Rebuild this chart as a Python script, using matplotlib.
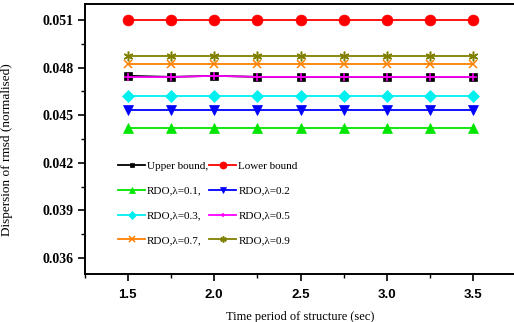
import matplotlib
matplotlib.use('Agg')
import matplotlib.pyplot as plt
from matplotlib.ticker import MultipleLocator

# -------------------------------------------------------
# Data
# -------------------------------------------------------
period = [1.5, 1.75, 2.0, 2.25, 2.5, 2.75, 3.0, 3.25, 3.5]

upper = [0.04748, 0.04741, 0.04748, 0.04741, 0.04741, 0.04741, 0.04741, 0.04741, 0.04741]
lower = [0.0510] * 9
rdo_01 = [0.04421] * 9
rdo_02 = [0.04535] * 9
rdo_03 = [0.04621] * 9
rdo_05 = [0.04740, 0.04740, 0.04748, 0.04741, 0.04741, 0.04741, 0.04741, 0.04741, 0.04741]
rdo_07 = [0.04822] * 9
rdo_09 = [0.04872] * 9

labels = ['Upper bound,', 'Lower bound', 'RDO,\u03bb=0.1,', 'RDO,\u03bb=0.2',
          'RDO,\u03bb=0.3,', 'RDO,\u03bb=0.5', 'RDO,\u03bb=0.7,', 'RDO,\u03bb=0.9']

# -------------------------------------------------------
# Plot
# -------------------------------------------------------
fig = plt.figure(figsize=(5.14, 3.22), dpi=100)
ax = fig.add_axes([84.5 / 514, 48 / 322, 432 / 514, 270 / 322])

series = [
    (upper, 'black', 's', 5.2),
    (lower, '#ff0000', 'o', 7.8),
    (rdo_01, '#00e600', '^', 7.2),
    (rdo_02, '#0000ff', 'v', 7.2),
    (rdo_03, '#00f0f0', 'D', 6),
    (rdo_05, '#ff00ff', '+', 5.5),
    (rdo_07, '#ff8000', 'x', 6),
    (rdo_09, '#808000', (6, 2, 0), 7),
]

handles = []
for vals, col, mk, ms in series:
    mew = 1.1 if mk in ['+', 'x', (6, 2, 0)] else 0.5
    h, = ax.plot(period, vals, color=col, marker=mk, markersize=ms,
                 markeredgewidth=mew, lw=1.3)
    handles.append(h)

ax.set_xlim(1.25, 3.75)
ax.set_ylim(0.035, 0.052)
ax.xaxis.set_major_locator(MultipleLocator(0.5))
ax.xaxis.set_minor_locator(MultipleLocator(0.25))
ax.yaxis.set_major_locator(MultipleLocator(0.003))
ax.yaxis.set_minor_locator(MultipleLocator(0.0015))

ax.tick_params(which='major', direction='out', length=5, width=1.2)
ax.tick_params(which='minor', direction='out', length=3, width=1.0)
ax.tick_params(axis='y', pad=3)
ax.tick_params(axis='x', pad=6)
for sp in ax.spines.values():
    sp.set_linewidth(1.4)

ax.set_yticklabels([f'{v:.3f}' for v in ax.get_yticks()],
                   fontfamily='Liberation Serif', fontweight='bold', fontsize=10)
ax.set_xticklabels([f'{v:.1f}' for v in ax.get_xticks()],
                   fontfamily='Liberation Sans', fontweight='bold', fontsize=9.5)

ax.set_ylabel('Dispersion of rmsd (normalised)', fontfamily='Liberation Serif',
              fontsize=9.5)
ax.yaxis.set_label_coords(-0.165, 0.46)
ax.set_xlabel('Time period of structure (sec)', fontfamily='Liberation Serif',
              fontsize=9, labelpad=7)

# legend: row-wise order, two columns
order = [0, 2, 4, 6, 1, 3, 5, 7]
leg = ax.legend([handles[i] for i in order], [labels[i] for i in order],
                ncol=2, frameon=False, loc='upper left',
                bbox_to_anchor=(0.055, 0.455),
                prop={'family': 'Liberation Serif', 'size': 8},
                handlelength=2.4, handletextpad=0.2, columnspacing=0.1,
                labelspacing=1.35, markerscale=0.65)

fig.savefig('out.png', dpi=100)
